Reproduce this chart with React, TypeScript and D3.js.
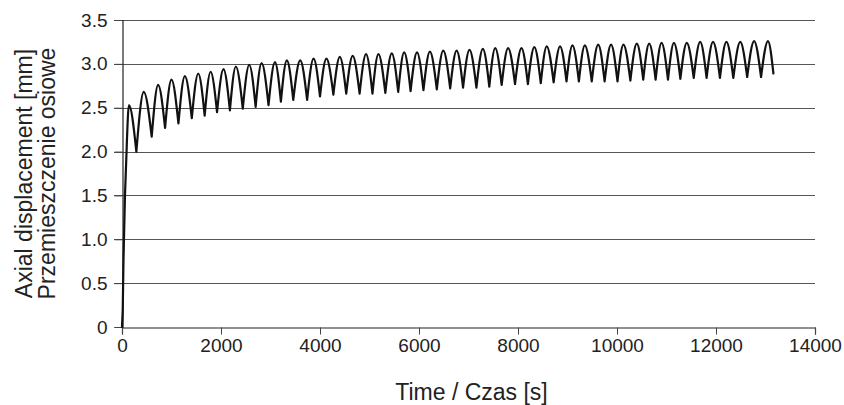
import { useEffect, useRef } from 'react';
import * as d3 from 'd3';

// initial loading ramp (s, mm)
const riseTimes = [0, 15, 30, 60, 95];
const riseValues = [0, 0.2, 0.76, 1.5, 2.05];

// cycle peaks (s, mm)
const peakTimes = [
  140, 440, 730, 1000, 1270, 1540, 1790, 2050, 2300, 2570, 2820, 3090, 3330, 3600, 3870, 4130, 4400,
  4660, 4930, 5180, 5450, 5700, 5960, 6220, 6490, 6760, 7020, 7290, 7540, 7800, 8070, 8330, 8580,
  8850, 9100, 9350, 9620, 9880, 10130, 10400, 10650, 10900, 11150, 11410, 11680, 11940, 12210,
  12490, 12770, 13050,
];
const peakValues = [
  2.53, 2.68, 2.76, 2.82, 2.86, 2.89, 2.91, 2.94, 2.97, 2.99, 3.01, 3.02, 3.04, 3.04, 3.06, 3.06,
  3.08, 3.09, 3.11, 3.11, 3.12, 3.13, 3.13, 3.14, 3.15, 3.15, 3.16, 3.17, 3.18, 3.18, 3.18, 3.19,
  3.2, 3.2, 3.21, 3.21, 3.22, 3.22, 3.22, 3.23, 3.23, 3.24, 3.24, 3.24, 3.25, 3.25, 3.25, 3.25,
  3.26, 3.26,
];

// troughs between the peaks (s, mm)
const troughTimes = [
  290, 600, 870, 1140, 1410, 1670, 1920, 2180, 2440, 2700, 2960, 3210, 3460, 3740, 4000, 4270,
  4530, 4800, 5060, 5320, 5580, 5830, 6090, 6360, 6630, 6890, 7160, 7420, 7670, 7940, 8200, 8460,
  8720, 8980, 9230, 9490, 9750, 10010, 10270, 10530, 10780, 11030, 11280, 11550, 11810, 12080,
  12350, 12630, 12910,
];
const troughValues = [
  2.0, 2.17, 2.27, 2.32, 2.38, 2.41, 2.45, 2.47, 2.49, 2.51, 2.53, 2.57, 2.59, 2.59, 2.63, 2.65,
  2.66, 2.66, 2.66, 2.67, 2.68, 2.69, 2.7, 2.71, 2.72, 2.73, 2.73, 2.74, 2.76, 2.77, 2.77, 2.78,
  2.79, 2.8, 2.8, 2.8, 2.8, 2.8, 2.81, 2.82, 2.82, 2.82, 2.83, 2.84, 2.84, 2.84, 2.84, 2.85, 2.85,
];

// last recorded point
const endTime = 13160;
const endValue = 2.89;

const xTicks = [0, 2000, 4000, 6000, 8000, 10000, 12000, 14000];
const yTicks = [0, 0.5, 1.0, 1.5, 2.0, 2.5, 3.0, 3.5];

const FONT = 'Liberation Sans, Arial, sans-serif';

export default function App() {
  const svgRef = useRef<SVGSVGElement>(null);

  useEffect(() => {
    const W = 844;
    const H = 405;
    const margin = { top: 20, right: 29, bottom: 78, left: 122 };
    const width = W - margin.left - margin.right;
    const height = H - margin.top - margin.bottom;

    const root = d3.select(svgRef.current);
    root.selectAll('*').remove();

    const svg = root.append('g').attr('transform', `translate(${margin.left},${margin.top})`);

    const x = d3.scaleLinear().domain([0, 14000]).range([0, width]);
    const y = d3.scaleLinear().domain([0, 3.5]).range([height, 0]);

    // gridlines
    svg.selectAll('.grid')
      .data(yTicks.filter(d => d > 0))
      .join('line')
      .attr('x1', -8)
      .attr('x2', width)
      .attr('y1', d => Math.round(y(d)) + 0.5)
      .attr('y2', d => Math.round(y(d)) + 0.5)
      .attr('stroke', '#555')
      .attr('stroke-width', 1.2);

    // x axis
    const xAxis = svg.append('g')
      .attr('transform', `translate(0,${Math.round(height) + 0.5})`)
      .call(d3.axisBottom(x).tickValues(xTicks).tickFormat(d3.format('d')).tickSize(7).tickPadding(4));
    xAxis.select('.domain').attr('stroke', '#222').attr('stroke-width', 1.2);
    xAxis.selectAll('.tick line').attr('stroke', '#444');
    xAxis.selectAll('.tick text')
      .attr('font-family', FONT)
      .attr('font-size', 19)
      .attr('fill', '#222');

    // y axis
    const yAxis = svg.append('g')
      .attr('transform', 'translate(0.5,0)')
      .call(d3.axisLeft(y).tickValues(yTicks).tickFormat(d => (d === 0 ? '0' : d3.format('.1f')(d as number))).tickSize(8).tickPadding(7));
    yAxis.select('.domain').attr('stroke', '#222').attr('stroke-width', 1.2);
    yAxis.selectAll('.tick line').attr('stroke', '#444');
    yAxis.selectAll('.tick text')
      .attr('font-family', FONT)
      .attr('font-size', 19)
      .attr('fill', '#222');

    // curve: ramp + arches between troughs
    const rampPts: [number, number][] = riseTimes.map((t, i) => [t, riseValues[i]]);
    const linear = d3.line<[number, number]>().x(d => x(d[0])).y(d => y(d[1]));
    const arch = d3.line<[number, number]>().x(d => x(d[0])).y(d => y(d[1])).curve(d3.curveMonotoneX);

    let d = linear(rampPts) || '';
    peakTimes.forEach((pt, i) => {
      const start: [number, number] = i === 0
        ? rampPts[rampPts.length - 1]
        : [troughTimes[i - 1], troughValues[i - 1]];
      const end: [number, number] = i < troughTimes.length
        ? [troughTimes[i], troughValues[i]]
        : [endTime, endValue];
      const seg = arch([start, [pt, peakValues[i]], end]) || '';
      d += seg.replace(/^M/, 'L');
    });

    svg.append('path')
      .attr('d', d)
      .attr('fill', 'none')
      .attr('stroke', '#111')
      .attr('stroke-width', 2.2)
      .attr('stroke-linejoin', 'round')
      .attr('stroke-linecap', 'round');

    // axis titles
    svg.append('text')
      .attr('x', width / 2 + 3)
      .attr('y', 380)
      .attr('text-anchor', 'middle')
      .attr('font-family', FONT)
      .attr('font-size', 23)
      .attr('fill', '#222')
      .text('Time / Czas [s]');

    const yTitle = svg.append('text')
      .attr('transform', `translate(${-margin.left + 32},${height / 2}) rotate(-90)`)
      .attr('text-anchor', 'middle')
      .attr('font-family', FONT)
      .attr('font-size', 23)
      .attr('fill', '#222');
    yTitle.append('tspan').attr('x', 0).attr('y', 0).text('Axial displacement [mm]');
    yTitle.append('tspan').attr('x', 0).attr('y', 23).text('Przemieszczenie osiowe');
  }, []);

  return (
    <svg
      ref={svgRef}
      width={844}
      height={405}
      style={{ position: 'absolute', left: 0, top: 0, background: '#fff' }}
    />
  );
}
